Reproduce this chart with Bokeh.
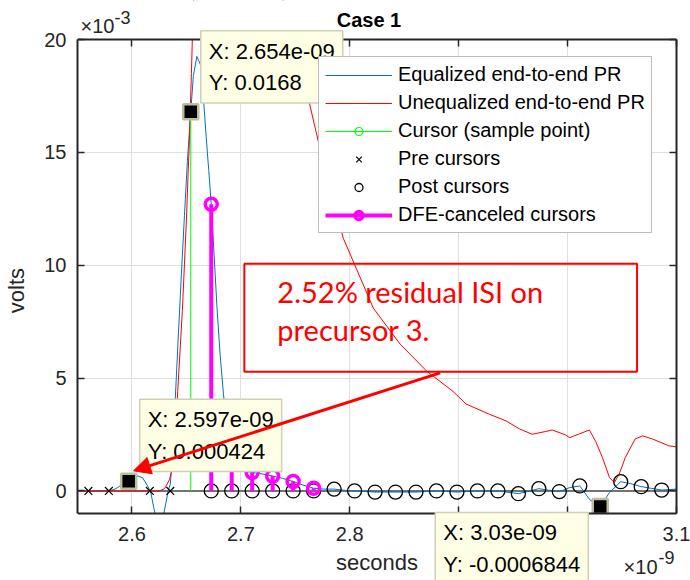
from bokeh.plotting import figure
from bokeh.models import (Range1d, LinearAxis, FixedTicker, CustomJSTickFormatter,
                          Label, Legend, LegendItem, Span, BoxAnnotation, Arrow, NormalHead)
from bokeh.embed import file_html
from bokeh.resources import INLINE

# ---------------- data (time in ns -> axis x10^-9 s ; amplitude in mV -> axis x10^-3 V)
eq_t = [2.550, 2.575, 2.580, 2.5835, 2.587, 2.591, 2.597, 2.602, 2.6055, 2.6098, 2.6144,
        2.6164, 2.6176, 2.620, 2.6225, 2.6255, 2.6292, 2.6335, 2.6352, 2.6372, 2.6399,
        2.6427, 2.6454, 2.6482, 2.6509, 2.654, 2.6564, 2.6596, 2.6628, 2.6656, 2.6683,
        2.6705, 2.6728, 2.6755, 2.678, 2.681, 2.684, 2.687, 2.6895, 2.6916, 2.695, 2.700,
        2.7104, 2.720, 2.7292, 2.738, 2.748, 2.757, 2.7668, 2.776, 2.7856, 2.795, 2.8044,
        2.8232, 2.842, 2.8608, 2.8796, 2.8984, 2.9172, 2.936, 2.9548, 2.964, 2.9736, 2.983,
        2.9924, 3.002, 3.0112, 3.0206, 3.030, 3.0385, 3.0488, 3.058, 3.0676, 3.0864, 3.100]
eq_v = [0.0, 0.0, 0.02, 0.06, 0.15, 0.28, 0.424, 0.58, 0.66, 0.58, 0.22,
        0.0, -0.13, -0.74, -1.3, -1.6, -1.02, 0.05, 0.3, 1.5, 4.2,
        7.0, 9.6, 12.2, 14.6, 16.8, 18.4, 19.25, 18.9, 17.4, 15.6,
        14.2, 12.7, 10.4, 8.2, 6.0, 4.3, 2.9, 1.9, 1.3, 1.0, 0.9,
        0.82, 0.75, 0.66, 0.56, 0.42, 0.26, 0.12, 0.08, 0.08, 0.03, 0.0,
        -0.05, -0.05, -0.05, 0.0, -0.05, 0.0, 0.0, -0.12, -0.02, 0.1, 0.03,
        -0.03, 0.15, 0.22, -0.4, -0.6844, -0.07, 0.41, 0.32, 0.19, 0.04, 0.08]

uneq_t = [2.550, 2.600, 2.625, 2.630, 2.6345, 2.637, 2.640, 2.642, 2.6463, 2.650, 2.6527,
          2.6546, 2.656, 2.660, 2.670, 2.685, 2.700, 2.720, 2.740, 2.7495, 2.7619, 2.773,
          2.794, 2.8216, 2.8463, 2.8708, 2.895, 2.9068, 2.928, 2.9436, 2.9557, 2.9675,
          2.9795, 2.986, 2.998, 3.002, 3.011, 3.020, 3.0257, 3.032, 3.0385, 3.043, 3.0474,
          3.053, 3.062, 3.0688, 3.078, 3.093, 3.100]
uneq_v = [0.0, 0.0, 0.0, 0.1, 0.5, 1.0, 2.5, 4.4, 8.0, 12.0, 15.5,
          18.5, 21.0, 26.0, 30.0, 31.0, 29.0, 25.5, 21.5, 20.0, 17.4, 15.1,
          11.2, 8.1, 6.5, 5.3, 4.4, 3.85, 3.4, 3.1, 2.75, 2.51,
          2.63, 2.7, 2.48, 2.36, 2.53, 2.7, 2.2, 1.48, 0.59, 0.37, 0.75,
          1.48, 2.3, 2.44, 2.3, 2.0, 1.95]

cursor_t = [2.654]
cursor_v = [16.8]

pre_t = [2.5600, 2.5788, 2.5976, 2.6164, 2.6352]
pre_v = [0.0, 0.0, 0.424, 0.0, 0.0]

post_t = [2.6728, 2.6916, 2.7104, 2.7292, 2.7480, 2.7668, 2.7856, 2.8044, 2.8232, 2.8420,
          2.8608, 2.8796, 2.8984, 2.9172, 2.9360, 2.9548, 2.9736, 2.9924, 3.0112, 3.0300,
          3.0488, 3.0676, 3.0864]
post_v = [0.0, 0.0, 0.0, 0.0, 0.0, 0.0, 0.08, 0.0, -0.05, -0.05,
          -0.05, 0.0, -0.05, 0.0, 0.0, -0.12, 0.1, -0.03, 0.22, -0.6844,
          0.41, 0.19, 0.04]

dfe_t = [2.6728, 2.6916, 2.7104, 2.7292, 2.7480, 2.7668]
dfe_v = [12.7, 1.3, 0.82, 0.66, 0.42, 0.12]

tip_t = [2.654, 2.597, 3.030]
tip_v = [16.8, 0.424, -0.6844]
tip_text = ["X: 2.654e-09\nY: 0.0168", "X: 2.597e-09\nY: 0.000424", "X: 3.03e-09\nY: -0.0006844"]

x_lim = (2.55, 3.1)
y_lim = (-1.0, 20.0)
x_ticks = [2.6, 2.7, 2.8, 2.9, 3.0, 3.1]
y_ticks = [0, 5, 10, 15, 20]

note_lines = ["2.52% residual ISI on", "precursor 3."]

# ---------------- layout: the frame spans the canvas height and reaches the right edge;
# the axes box is drawn by axes fixed at the limits, so texts around it are not clipped.
FONT = "Liberation Sans"
BOX_W = 599
RIGHT_PAD_PX = 14
FRAME_W, FRAME_H = BOX_W + RIGHT_PAD_PX, 580
BOX_TOP_PX, BOX_BOTTOM_PX = 39, 513
py_per_unit = (BOX_BOTTOM_PX - BOX_TOP_PX) / (y_lim[1] - y_lim[0])
px_per_unit = BOX_W / (x_lim[1] - x_lim[0])
y_range = Range1d(y_lim[0] - (FRAME_H - BOX_BOTTOM_PX) / py_per_unit,
                  y_lim[1] + BOX_TOP_PX / py_per_unit)
x_range = Range1d(x_lim[0], x_lim[1] + RIGHT_PAD_PX / px_per_unit)

p = figure(frame_width=FRAME_W, frame_height=FRAME_H, output_backend="svg", toolbar_location=None,
           x_range=x_range, y_range=y_range, title=None,
           min_border_left=77, min_border_right=0, min_border_top=0, min_border_bottom=0)
p.outline_line_color = None
p.background_fill_color = "white"
p.border_fill_color = "white"

AX_COLOR = "#262626"
fmt = CustomJSTickFormatter(code="return parseFloat(tick.toFixed(3)).toString();")
blank = CustomJSTickFormatter(code="return '';")


def style_axis(ax, ticks, bounds, labels=True):
    ax.ticker = FixedTicker(ticks=ticks)
    ax.bounds = bounds
    ax.axis_line_color = AX_COLOR
    ax.axis_line_width = 2
    ax.major_tick_in = 7
    ax.major_tick_out = 0
    ax.minor_tick_in = 0
    ax.minor_tick_out = 0
    ax.major_tick_line_color = AX_COLOR
    ax.major_tick_line_width = 1.5
    if labels:
        ax.formatter = fmt
        ax.major_label_text_font = FONT
        ax.major_label_text_font_size = "20px"
        ax.major_label_text_color = AX_COLOR
        ax.axis_label_text_font = FONT
        ax.axis_label_text_font_size = "22px"
        ax.axis_label_text_font_style = "normal"
        ax.axis_label_text_color = AX_COLOR
    else:
        ax.formatter = blank
        ax.major_label_standoff = 0
        ax.major_label_text_font_size = "2px"


xb = p.xaxis[0]
style_axis(xb, x_ticks, x_lim)
xb.fixed_location = y_lim[0]
xb.axis_label = "seconds"
xb.major_label_standoff = 13
xb.axis_label_standoff = 6

yl = p.yaxis[0]
style_axis(yl, y_ticks, y_lim)
yl.axis_label = "volts"
yl.major_label_standoff = 11
yl.axis_label_standoff = 12

xt = LinearAxis()
style_axis(xt, x_ticks, x_lim, labels=False)
xt.fixed_location = y_lim[1]
p.add_layout(xt, "above")

yr = LinearAxis()
style_axis(yr, y_ticks, y_lim, labels=False)
yr.fixed_location = x_lim[1]
p.add_layout(yr, "right")

p.xgrid.ticker = FixedTicker(ticks=x_ticks)
p.ygrid.ticker = FixedTicker(ticks=y_ticks)
p.xgrid.bounds = y_lim
p.ygrid.bounds = x_lim
p.grid.grid_line_color = "#dfdfdf"
p.grid.grid_line_width = 1

# stem baseline
p.add_layout(Span(location=0, dimension="width", line_color="#737373", line_width=2, level="underlay"))

# curves
r_eq = p.line(eq_t, eq_v, line_color="#0072BD", line_width=1)
r_uneq = p.line(uneq_t, uneq_v, line_color="#FF0000", line_width=1)

# cursor
r_cur_seg = p.segment(x0=cursor_t, y0=[0] * len(cursor_t), x1=cursor_t, y1=cursor_v,
                      line_color="#00FF00", line_width=1)
r_cur_dot = p.scatter(cursor_t, cursor_v, marker="circle", size=13, fill_color=None,
                      line_color="#00FF00", line_width=1.2)

# pre & post cursors
r_pre = p.scatter(pre_t, pre_v, marker="x", size=11, line_color="black", line_width=1.2)
r_post = p.scatter(post_t, post_v, marker="circle", size=14, fill_color=None,
                   line_color="black", line_width=1.3)

# DFE canceled cursors
r_dfe_seg = p.segment(x0=dfe_t, y0=[0] * len(dfe_t), x1=dfe_t, y1=dfe_v,
                      line_color="#FF00FF", line_width=4)
r_dfe_dot = p.scatter(dfe_t, dfe_v, marker="circle", size=12, fill_color=None,
                      line_color="#FF00FF", line_width=3.5)

# datatip markers
p.scatter(tip_t, tip_v, marker="square", size=15, fill_color="black",
          line_color="#bdbd9b", line_width=2.5)

# white masks: clip the data to the axes box (drawn after the glyphs)
for kw in (dict(bottom=y_lim[1]), dict(top=y_lim[0]), dict(left=x_lim[1])):
    p.add_layout(BoxAnnotation(fill_color="white", fill_alpha=1.0, line_color=None,
                               level="glyph", **kw))

legend = Legend(items=[
    LegendItem(label="Equalized end-to-end PR", renderers=[r_eq]),
    LegendItem(label="Unequalized end-to-end PR", renderers=[r_uneq]),
    LegendItem(label="Cursor (sample point)", renderers=[r_cur_seg, r_cur_dot]),
    LegendItem(label="Pre cursors", renderers=[r_pre]),
    LegendItem(label="Post cursors", renderers=[r_post]),
    LegendItem(label="DFE-canceled cursors", renderers=[r_dfe_seg, r_dfe_dot]),
], location=(241, FRAME_H - 233), glyph_width=67, glyph_height=20, label_height=20, spacing=5,
   padding=6, margin=0, label_standoff=6, border_line_color="#7a7a7a", border_line_width=1,
   background_fill_color="white", background_fill_alpha=1.0,
   label_text_font=FONT, label_text_font_size="20px", label_text_color="black")
p.add_layout(legend)

# title
p.add_layout(Label(x=(x_lim[0] + x_lim[1]) / 2, y=y_lim[1], x_offset=-8, y_offset=20,
                   text="Case 1", text_align="center", text_baseline="alphabetic",
                   text_font=FONT, text_font_size="20px", text_font_style="bold",
                   text_color="black"))

# annotation box with note
p.add_layout(BoxAnnotation(left=2.7032, right=3.0638, top=10.07, bottom=5.28,
                           fill_alpha=0, line_color="#FF0000", line_alpha=1.0, line_width=2))
for i, line in enumerate(note_lines):
    p.add_layout(Label(x=2.7032, y=10.07, x_offset=33, y_offset=-28 - 38 * i, text=line,
                       text_align="left", text_baseline="alphabetic",
                       text_font="Lato", text_font_size="29px", text_color="#FF0000"))

# datatips (above the legend)
tip_offsets = [(10, 81), (11, 82), (-165, -6)]
for t, v, txt, (dx, dy) in zip(tip_t, tip_v, tip_text, tip_offsets):
    p.add_layout(Label(x=t, y=v, x_offset=dx, y_offset=dy, text=txt, level="overlay",
                       text_align="left", text_baseline="top", text_line_height=1.25,
                       text_font=FONT, text_font_size="22px", text_color="black",
                       background_fill_color="#ffffe6", border_line_color="#cfcfb8",
                       border_line_width=1.5, padding=8))

# arrow
p.add_layout(Arrow(end=NormalHead(size=17, fill_color="#FF0000", line_color="#FF0000"),
                   x_start=2.883, y_start=5.23, x_end=2.6014, y_end=0.89, level="overlay",
                   line_color="#FF0000", line_width=3))

# axis multipliers
p.add_layout(Label(x=x_lim[0], y=y_lim[1], x_offset=3, y_offset=14, text="×10",
                   text_baseline="alphabetic",
                   text_font=FONT, text_font_size="20px", text_color=AX_COLOR))
p.add_layout(Label(x=x_lim[0], y=y_lim[1], x_offset=37, y_offset=22, text="-3",
                   text_baseline="alphabetic",
                   text_font=FONT, text_font_size="18px", text_color=AX_COLOR))
p.add_layout(Label(x=x_lim[1], y=y_lim[0], x_offset=-19, y_offset=-53, text="×10",
                   text_align="right", text_baseline="alphabetic", text_font=FONT,
                   text_font_size="20px", text_color=AX_COLOR))
p.add_layout(Label(x=x_lim[1], y=y_lim[0], x_offset=-18, y_offset=-44, text="-9",
                   text_align="left", text_baseline="alphabetic", text_font=FONT,
                   text_font_size="18px", text_color=AX_COLOR))

open("out.html", "w").write(file_html(p, INLINE))
